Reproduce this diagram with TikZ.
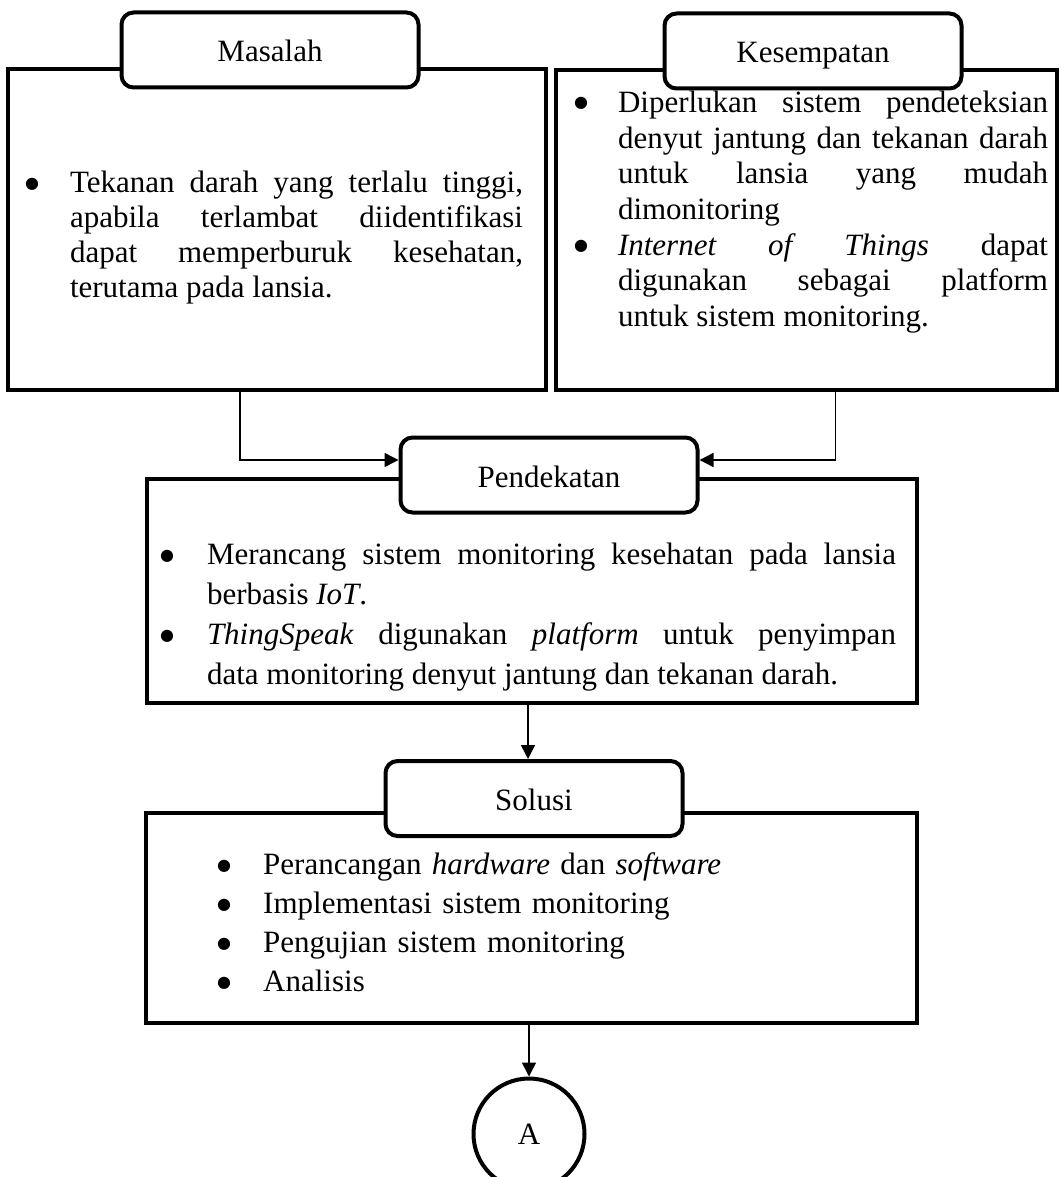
\documentclass[tikz,border=0pt]{standalone}
\usepackage{fontspec}
\setmainfont{Liberation Serif}
\newfontfamily\bulfont{DejaVu Sans}
\usetikzlibrary{positioning,calc,arrows.meta}
\tikzset{
  bigBox/.style={
    rectangle,
    draw=black,
    line width=4.5pt,
    inner sep=0pt
 },
  tagBox/.style={
    rectangle,
    rounded corners=12pt,
    draw=black,
    line width=4pt,
    fill=white,
    minimum width=297pt,
    minimum height=75pt,
    inner sep=0pt,
    text height=26pt,
    text depth=2pt,
    font=\fontsize{31}{35}\selectfont
 },
  listText/.style={
    inner sep=0pt,
    align=justify
 },
  arrowLine/.style={
    -{Triangle[length=14pt,width=14pt]},
    line width=1.5pt,
    color=black
 }
}
% round bullet mark
\newcommand{\bulet}{\raisebox{4.5pt}{\bulfont\fontsize{16}{16}\selectfont ●}}
% one bullet point with hanging indent
\newcommand{\butir}[2][45pt]{\par\noindent\hangindent=#1\hangafter=1\makebox[#1][l]{\bulet}#2\par}

\begin{document}
\begin{tikzpicture}[x=1pt,y=-1pt]
            \useasboundingbox[fill=white] (0,0) rectangle (1060,1177);

            % Top row: "Masalah" and "Kesempatan"
            \node[bigBox, minimum width=538pt, minimum height=321pt] (masalahBox) at (277,229.5) {};
            \node[bigBox, minimum width=501pt, minimum height=320pt] (kesempatanBox) at (806.5,230) {};
            \node[tagBox] (masalahTag) at (270,50) {Masalah};
            \node[tagBox] (kesempatanTag) at (813,51) {Kesempatan};

            \node[listText, text width=498pt, font=\fontsize{31}{35}\selectfont] (masalahText) at (274,231) {%
              \butir{Tekanan darah yang terlalu tinggi,\linebreak apabila terlambat diidentifikasi\linebreak dapat memperburuk kesehatan,\linebreak terutama pada lansia.}};
            \node[listText, text width=474pt, font=\fontsize{31}{35.7}\selectfont] (kesempatanText) at (811,205) {%
              \butir[44pt]{Diperlukan sistem pendeteksian\linebreak denyut jantung dan tekanan darah\linebreak untuk lansia yang mudah\linebreak dimonitoring}
              \butir[44pt]{\textit{Internet of Things} dapat\linebreak digunakan sebagai platform\linebreak untuk sistem monitoring.}};

            % Middle: "Pendekatan"
            \node[bigBox, minimum width=770pt, minimum height=224pt] (pendekatanBox) at (532,591) {};
            \node[tagBox] (pendekatanTag) at (549,475) {Pendekatan};
            \node[listText, text width=736pt, font=\fontsize{31}{40}\selectfont] (pendekatanText) at (528,608) {%
              \butir[47pt]{Merancang sistem monitoring kesehatan pada lansia\linebreak berbasis \textit{IoT}.}
              \butir[47pt]{\textit{ThingSpeak} digunakan \textit{platform} untuk penyimpan\linebreak data monitoring denyut jantung dan tekanan darah.}};

            % Lower: "Solusi"
            \node[bigBox, minimum width=771pt, minimum height=210pt] (solusiBox) at (531.5,918) {};
            \node[tagBox] (solusiTag) at (534,798.5) {Solusi};
            \node[listText, align=left, anchor=west, text width=600pt, font=\fontsize{31}{39}\selectfont] (solusiText) at (217,914) {%
              \butir[46pt]{Perancangan \textit{hardware} dan \textit{software}}
              \butir[46pt]{Implementasi sistem monitoring}
              \butir[46pt]{Pengujian sistem monitoring}
              \butir[46pt]{Analisis}};

            % Connector "A"
            \node[circle, draw=black, line width=4pt, minimum size=111pt, inner sep=0pt, font=\fontsize{31}{35}\selectfont] (aNode) at (529,1134) {A};

            % Arrows
            \draw[arrowLine] ([xshift=-37pt]masalahBox.south) |- ([yshift=15pt]pendekatanTag.west);
            \draw[arrowLine] ([xshift=29pt]kesempatanBox.south) |- ([yshift=15pt]pendekatanTag.east);
            \draw[arrowLine] ([xshift=-4pt]pendekatanBox.south) -- ([xshift=-6pt]solusiTag.north);
            \draw[arrowLine] (solusiBox.south -| aNode.north) -- (aNode.north);

        \end{tikzpicture}
\end{document}
